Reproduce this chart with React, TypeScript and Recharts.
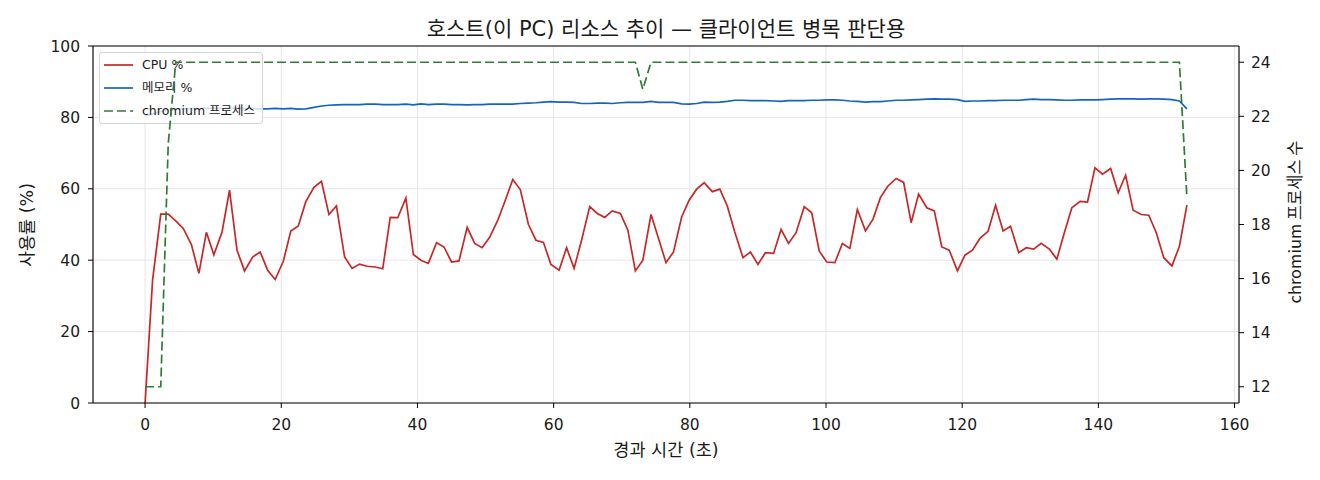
import React from 'react';
import { LineChart, Line, XAxis, YAxis, CartesianGrid, ReferenceLine, Legend } from 'recharts';

// elapsed seconds for each sample
const TIME = [
  0, 1.1, 2.3, 3.4, 4.5, 5.6, 6.8, 7.9,
  9, 10.1, 11.3, 12.4, 13.5, 14.6, 15.8, 16.9,
  18, 19.1, 20.3, 21.4, 22.5, 23.6, 24.8, 25.9,
  27, 28.1, 29.3, 30.4, 31.5, 32.6, 33.8, 34.9,
  36, 37.1, 38.3, 39.4, 40.5, 41.6, 42.8, 43.9,
  45, 46.1, 47.3, 48.4, 49.5, 50.6, 51.8, 52.9,
  54, 55.1, 56.3, 57.4, 58.5, 59.6, 60.8, 61.9,
  63, 64.1, 65.3, 66.4, 67.5, 68.6, 69.8, 70.9,
  72, 73.1, 74.3, 75.4, 76.5, 77.6, 78.8, 79.9,
  81, 82.1, 83.3, 84.4, 85.5, 86.6, 87.8, 88.9,
  90, 91.1, 92.3, 93.4, 94.5, 95.6, 96.8, 97.9,
  99, 100.1, 101.3, 102.4, 103.5, 104.6, 105.8, 106.9,
  108, 109.1, 110.3, 111.4, 112.5, 113.6, 114.8, 115.9,
  117, 118.1, 119.3, 120.4, 121.5, 122.6, 123.8, 124.9,
  126, 127.1, 128.3, 129.4, 130.5, 131.6, 132.8, 133.9,
  135, 136.1, 137.3, 138.4, 139.5, 140.6, 141.8, 142.9,
  144, 145.1, 146.3, 147.4, 148.5, 149.6, 150.8, 151.9,
  153,
];

const CPU = [
  0, 34.4, 52.9, 52.9, 51.0, 48.9, 44.4, 36.3, 47.8, 41.5,
  47.9, 59.6, 42.8, 37.0, 40.9, 42.3, 37.2, 34.6, 39.7, 48.2,
  49.6, 56.4, 60.4, 62.1, 52.8, 55.2, 40.9, 37.7, 38.9, 38.3,
  38.1, 37.6, 52.0, 51.9, 57.4, 41.6, 40.0, 39.1, 44.9, 43.7,
  39.5, 39.8, 49.2, 44.7, 43.5, 46.4, 51.2, 56.8, 62.6, 59.8,
  50.0, 45.6, 45.0, 38.8, 37.2, 43.5, 37.7, 45.6, 55.0, 53.1,
  52.0, 53.8, 53.1, 48.4, 37.0, 40.0, 52.8, 46.1, 39.3, 42.3,
  52.1, 56.8, 59.9, 61.7, 59.2, 59.9, 55.2, 47.9, 40.7, 42.3,
  38.8, 42.1, 41.9, 48.6, 44.7, 47.7, 55.0, 53.3, 42.6, 39.5,
  39.3, 44.7, 43.3, 54.2, 48.2, 51.5, 57.6, 60.8, 62.9, 61.8,
  50.5, 58.5, 54.7, 53.8, 43.7, 42.8, 37.0, 41.4, 42.8, 46.1,
  48.1, 55.4, 48.2, 49.5, 42.1, 43.5, 43.1, 44.7, 43.1, 40.3,
  47.7, 54.7, 56.5, 56.3, 65.9, 64.1, 65.7, 58.9, 63.8, 54.0,
  52.8, 52.6, 47.7, 40.7, 38.4, 43.9, 55.4,
];

const MEMORY = [
  80.4, 81.0, 81.6, 82.0, 82.3, 82.4, 82.5, 82.5, 82.6, 82.6,
  82.5, 82.6, 82.6, 82.5, 82.5, 82.4, 82.4, 82.5, 82.4, 82.5,
  82.3, 82.4, 82.8, 83.2, 83.4, 83.5, 83.6, 83.6, 83.6, 83.7,
  83.7, 83.6, 83.6, 83.6, 83.7, 83.5, 83.8, 83.6, 83.7, 83.7,
  83.6, 83.6, 83.5, 83.6, 83.6, 83.7, 83.7, 83.7, 83.7, 83.9,
  84.0, 84.1, 84.3, 84.4, 84.3, 84.3, 84.2, 83.9, 83.9, 84.0,
  84.0, 83.9, 84.1, 84.2, 84.2, 84.2, 84.5, 84.2, 84.2, 84.2,
  83.8, 83.7, 83.9, 84.3, 84.2, 84.3, 84.5, 84.8, 84.8, 84.7,
  84.7, 84.7, 84.6, 84.5, 84.7, 84.7, 84.7, 84.8, 84.8, 84.9,
  84.9, 84.8, 84.6, 84.5, 84.3, 84.4, 84.4, 84.6, 84.8, 84.8,
  84.9, 85.0, 85.1, 85.2, 85.1, 85.1, 85.0, 84.5, 84.6, 84.6,
  84.7, 84.7, 84.8, 84.8, 84.8, 85.0, 85.1, 85.0, 85.0, 84.9,
  84.8, 84.8, 84.9, 84.9, 84.9, 85.0, 85.1, 85.2, 85.2, 85.2,
  85.1, 85.2, 85.2, 85.1, 85.0, 84.6, 82.4,
];

const CHROMIUM = [
  12, 12, 12, 21, 24, 24, 24, 24, 24, 24,
  24, 24, 24, 24, 24, 24, 24, 24, 24, 24,
  24, 24, 24, 24, 24, 24, 24, 24, 24, 24,
  24, 24, 24, 24, 24, 24, 24, 24, 24, 24,
  24, 24, 24, 24, 24, 24, 24, 24, 24, 24,
  24, 24, 24, 24, 24, 24, 24, 24, 24, 24,
  24, 24, 24, 24, 24, 23, 24, 24, 24, 24,
  24, 24, 24, 24, 24, 24, 24, 24, 24, 24,
  24, 24, 24, 24, 24, 24, 24, 24, 24, 24,
  24, 24, 24, 24, 24, 24, 24, 24, 24, 24,
  24, 24, 24, 24, 24, 24, 24, 24, 24, 24,
  24, 24, 24, 24, 24, 24, 24, 24, 24, 24,
  24, 24, 24, 24, 24, 24, 24, 24, 24, 24,
  24, 24, 24, 24, 24, 24, 19,
];

const X_TICKS = [0, 20, 40, 60, 80, 100, 120, 140, 160];
const LEFT_TICKS = [0, 20, 40, 60, 80, 100];
const RIGHT_TICKS = [12, 14, 16, 18, 20, 22, 24];

const TITLE = '호스트(이 PC) 리소스 추이 — 클라이언트 병목 판단용';
const X_LABEL = '경과 시간 (초)';
const LEFT_LABEL = '사용률 (%)';
const RIGHT_LABEL = 'chromium 프로세스 수';

const SERIES = [
  { key: 'cpu', name: 'CPU %', color: '#c62828', dash: undefined },
  { key: 'mem', name: '메모리 %', color: '#1565c0', dash: undefined },
  { key: 'chromium', name: 'chromium 프로세스', color: '#2e7d32', dash: '9 4' },
];

const W = 1320;
const H = 480;
const X_DOMAIN: [number, number] = [-7.65, 160.65];
const RIGHT_DOMAIN: [number, number] = [11.4, 24.6];
const FONT = "'DejaVu Sans', 'Noto Sans CJK KR', sans-serif";
const CJK_FONT = "'Noto Sans CJK KR', sans-serif";
const TEXT = '#1a1a1a';
const tickStyle = { fill: TEXT, fontSize: 15.5, fontFamily: FONT };

const LegendBox = () => (
  <div
    style={{
      position: 'relative',
      width: 164,
      height: 72,
      boxSizing: 'border-box',
      border: '1px solid #d4d4d4',
      borderRadius: 3,
      background: 'rgba(255,255,255,0.8)',
      fontFamily: FONT,
      fontSize: 12.5,
      color: TEXT,
    }}
  >
    {SERIES.map((s, i) => (
      <div key={s.key} style={{ position: 'absolute', left: 0, top: 12 + i * 23 - 10, height: 20, width: '100%' }}>
        <svg width={30} height={20} style={{ position: 'absolute', left: 4, top: 0 }}>
          <line x1={0} y1={10} x2={29} y2={10} stroke={s.color} strokeWidth={1.7} strokeDasharray={s.dash} />
        </svg>
        <span style={{ position: 'absolute', left: 42, top: 0, lineHeight: '20px', whiteSpace: 'nowrap' }}>{s.name}</span>
      </div>
    ))}
  </div>
);

export default function App() {
  const data = TIME.map((t, i) => ({ t, cpu: CPU[i], mem: MEMORY[i], chromium: CHROMIUM[i] }));

  return (
    <div style={{ position: 'absolute', left: 0, top: 0, width: W, height: H, background: '#fff', fontFamily: FONT, color: TEXT }}>
      <div style={{ position: 'absolute', left: 0, top: 0 }}>
        <LineChart width={W} height={H} data={data} margin={{ top: 46, right: 21, bottom: 47, left: 33 }}>
          <CartesianGrid yAxisId="left" stroke="#e6e6e6" strokeWidth={1} />
          <XAxis
            type="number"
            dataKey="t"
            domain={X_DOMAIN}
            ticks={X_TICKS}
            interval={0}
            allowDataOverflow
            height={30}
            tickSize={5}
            tickMargin={11}
            tick={tickStyle}
            stroke="#000"
            axisLine={{ stroke: '#000', strokeWidth: 1.1 }}
            tickLine={{ stroke: '#000' }}
          />
          <YAxis
            yAxisId="left"
            domain={[0, 100]}
            ticks={LEFT_TICKS}
            interval={0}
            allowDataOverflow
            width={60}
            tickSize={5}
            tickMargin={8}
            tick={tickStyle}
            axisLine={{ stroke: '#000', strokeWidth: 1.1 }}
            tickLine={{ stroke: '#000' }}
          />
          <YAxis
            yAxisId="right"
            orientation="right"
            domain={RIGHT_DOMAIN}
            ticks={RIGHT_TICKS}
            interval={0}
            allowDataOverflow
            width={60}
            tickSize={5}
            tickMargin={7}
            tick={tickStyle}
            axisLine={{ stroke: '#000', strokeWidth: 1.1 }}
            tickLine={{ stroke: '#000' }}
          />
          <ReferenceLine yAxisId="left" y={100} stroke="#000" strokeWidth={1.1} />
          <Line yAxisId="left" dataKey="cpu" stroke="#c62828" strokeWidth={1.7} dot={false} isAnimationActive={false} />
          <Line yAxisId="left" dataKey="mem" stroke="#1565c0" strokeWidth={1.7} dot={false} isAnimationActive={false} />
          <Legend
            layout="vertical"
            align="center"
            verticalAlign="middle"
            wrapperStyle={{ left: 99, top: 52, width: 164, height: 72 }}
            content={() => <LegendBox />}
          />
        </LineChart>
      </div>

      {/* twin axis drawn above the legend, as in the source figure */}
      <div style={{ position: 'absolute', left: 0, top: 0, pointerEvents: 'none' }}>
        <LineChart width={W} height={H} data={data} margin={{ top: 46, right: 81, bottom: 77, left: 93 }}>
          <XAxis type="number" dataKey="t" domain={X_DOMAIN} allowDataOverflow hide />
          <YAxis domain={RIGHT_DOMAIN} allowDataOverflow hide />
          <Line
            dataKey="chromium"
            stroke="#2e7d32"
            strokeWidth={1.7}
            strokeDasharray="9 4"
            dot={false}
            isAnimationActive={false}
          />
        </LineChart>
      </div>

      <div style={{ position: 'absolute', left: 93, width: 1146, top: 17, lineHeight: '24px', fontSize: 21, textAlign: 'center', whiteSpace: 'nowrap' }}>
        {TITLE}
      </div>
      <div style={{ position: 'absolute', left: 93, width: 1146, top: 439, lineHeight: '22px', fontSize: 17.5, textAlign: 'center', whiteSpace: 'nowrap' }}>
        {X_LABEL}
      </div>
      <div style={{ position: 'absolute', left: 27, top: 225, fontSize: 17.5, lineHeight: '22px', whiteSpace: 'nowrap', transform: 'translate(-50%, -50%) rotate(-90deg)' }}>
        {LEFT_LABEL}
      </div>
      <div style={{ position: 'absolute', left: 1294, top: 222, fontSize: 16.5, fontFamily: CJK_FONT, lineHeight: '22px', whiteSpace: 'nowrap', transform: 'translate(-50%, -50%) rotate(-90deg)' }}>
        {RIGHT_LABEL}
      </div>
    </div>
  );
}
